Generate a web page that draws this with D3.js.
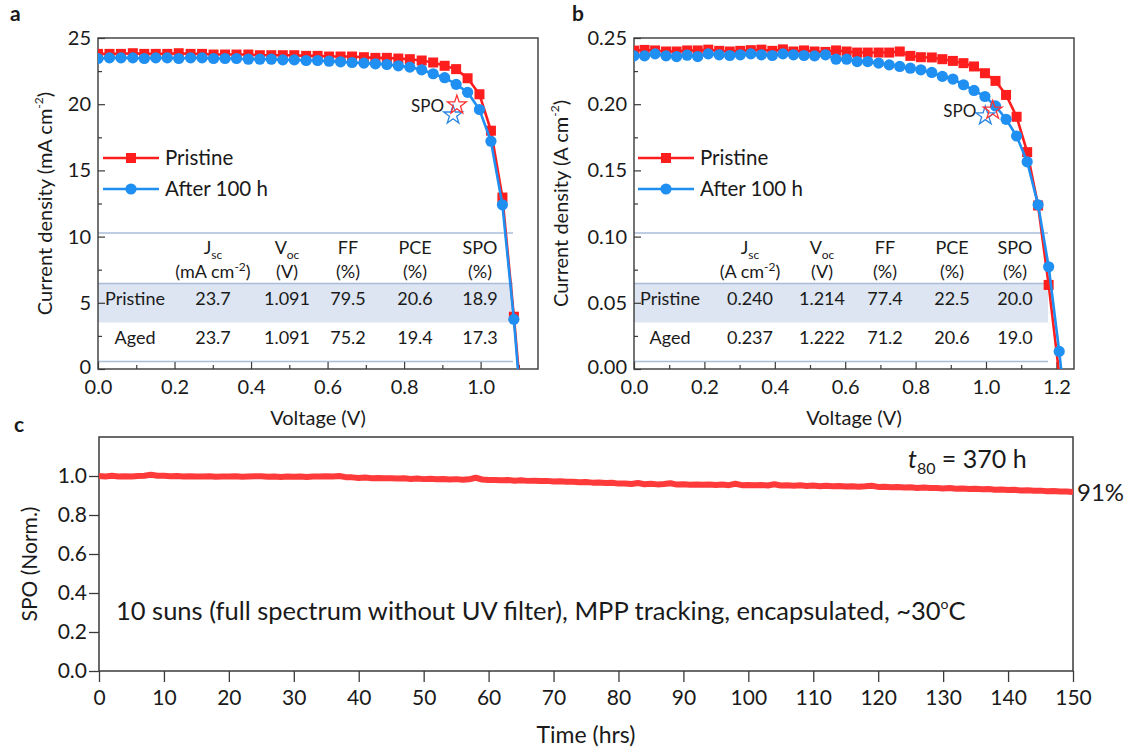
<!DOCTYPE html>
<html>
<head>
<meta charset="utf-8">
<script src="https://cdn.jsdelivr.net/npm/d3@7"></script>
<style>
  body { margin: 0; background: #fff; }
  svg text { font-family: Lato, "Open Sans", sans-serif; fill: #1a1a1a; }
</style>
</head>
<body>
<svg id="fig" width="1132" height="749"></svg>
<script>
// ---- data ----
var voltage = [0, 0.030, 0.060, 0.091, 0.121, 0.151, 0.181, 0.211, 0.242, 0.272,
  0.302, 0.332, 0.362, 0.393, 0.423, 0.453, 0.483, 0.513, 0.544, 0.574,
  0.604, 0.634, 0.664, 0.695, 0.725, 0.755, 0.785, 0.815, 0.846, 0.876,
  0.906, 0.936, 0.966, 0.997, 1.027, 1.057, 1.087, 1.117, 1.148, 1.178,
  1.208, 1.238];

// panel a, mA cm-2
var pristine_a = [23.8, 23.8, 23.8, 23.85, 23.8, 23.8, 23.8, 23.85, 23.8, 23.8,
  23.75, 23.75, 23.75, 23.75, 23.7, 23.7, 23.7, 23.7, 23.65, 23.65,
  23.6, 23.6, 23.6, 23.55, 23.5, 23.5, 23.45, 23.4, 23.3, 23.15,
  22.9, 22.65, 21.96, 20.75, 18.0, 12.95, 3.95, -6];
var aged_a = [23.45, 23.5, 23.5, 23.5, 23.45, 23.5, 23.5, 23.45, 23.5, 23.5,
  23.45, 23.45, 23.45, 23.4, 23.4, 23.4, 23.35, 23.35, 23.3, 23.3,
  23.25, 23.2, 23.15, 23.1, 23.05, 23.0, 22.9, 22.8, 22.6, 22.3,
  22.0, 21.5, 20.9, 19.6, 17.2, 12.4, 3.75, -7];

// panel b, A cm-2
var pristine_b = [0.2405, 0.241, 0.2406, 0.2398, 0.2398, 0.2406, 0.2406, 0.2412, 0.2403, 0.2398,
  0.2403, 0.2408, 0.2412, 0.2403, 0.2414, 0.2398, 0.2406, 0.2398, 0.2395, 0.2406,
  0.2398, 0.239, 0.239, 0.239, 0.239, 0.2398, 0.2365, 0.2355, 0.2353, 0.234,
  0.2327, 0.231, 0.2285, 0.2234, 0.2176, 0.207, 0.1905, 0.1638, 0.1235, 0.0635,
  -0.004];
var aged_b = [0.2365, 0.2365, 0.238, 0.2365, 0.236, 0.237, 0.236, 0.238, 0.2373, 0.2368,
  0.2373, 0.238, 0.2373, 0.2368, 0.238, 0.2373, 0.2368, 0.2365, 0.2373, 0.234,
  0.234, 0.2322, 0.2322, 0.231, 0.2297, 0.2285, 0.2272, 0.226, 0.224, 0.221,
  0.219, 0.2147, 0.2104, 0.2058, 0.1987, 0.1886, 0.176, 0.1565, 0.124, 0.0772,
  0.0133, -0.06];

// SPO stars [pristine, aged]
var spo_v_a = [0.938, 0.928], spo_j_a = [19.94, 19.18];
var spo_v_b = [1.019, 0.998], spo_j_b = [0.1955, 0.1912];

// tables
var table_rows = ['Pristine', 'Aged'];
var table_a = [['23.7', '1.091', '79.5', '20.6', '18.9'],
               ['23.7', '1.091', '75.2', '19.4', '17.3']];
var table_b = [['0.240', '1.214', '77.4', '22.5', '20.0'],
               ['0.237', '1.222', '71.2', '20.6', '19.0']];
var units_a = ['mA cm', '(V)', '(%)', '(%)', '(%)'];
var units_b = ['A cm', '(V)', '(%)', '(%)', '(%)'];

// panel c: normalised SPO, one value per hour
var hours = d3.range(0, 151);
var spo_norm = [1.000, 0.998, 1.001, 0.997, 0.999, 0.997, 1.000, 1.001, 1.006, 1.001,
  1.001, 0.999, 1.000, 0.997, 0.999, 0.997, 0.998, 0.999, 0.996, 0.998,
  0.997, 0.999, 0.996, 0.998, 0.999, 0.999, 0.996, 0.998, 0.995, 0.997,
  0.996, 0.998, 0.995, 0.997, 0.997, 0.999, 0.998, 1.000, 0.994, 0.993,
  0.990, 0.992, 0.989, 0.990, 0.988, 0.989, 0.987, 0.988, 0.985, 0.987,
  0.984, 0.986, 0.983, 0.985, 0.982, 0.984, 0.981, 0.983, 0.991, 0.982,
  0.979, 0.980, 0.978, 0.979, 0.976, 0.978, 0.975, 0.976, 0.974, 0.975,
  0.972, 0.973, 0.970, 0.971, 0.968, 0.969, 0.966, 0.967, 0.964, 0.965,
  0.961, 0.962, 0.959, 0.964, 0.958, 0.960, 0.957, 0.959, 0.963, 0.956,
  0.958, 0.955, 0.957, 0.955, 0.956, 0.954, 0.956, 0.953, 0.960, 0.953,
  0.954, 0.952, 0.954, 0.951, 0.958, 0.951, 0.952, 0.950, 0.952, 0.949,
  0.951, 0.948, 0.950, 0.947, 0.949, 0.946, 0.948, 0.945, 0.947, 0.950,
  0.944, 0.945, 0.942, 0.944, 0.941, 0.942, 0.939, 0.941, 0.938, 0.939,
  0.936, 0.938, 0.935, 0.936, 0.933, 0.935, 0.932, 0.933, 0.930, 0.931,
  0.928, 0.929, 0.926, 0.927, 0.924, 0.925, 0.922, 0.923, 0.920, 0.921,
  0.918];

var red = '#ff1e1e', blue = '#1f8ff2', axis_col = '#3a3a3a',
    table_line = '#a9bdd8', band_fill = '#dce5f1', spo_red = '#ff3a3a';

var svg = d3.select('#fig');

function add_clip(id, l, t, r, b) {
  svg.append('clipPath').attr('id', id)
    .append('rect').attr('x', l).attr('y', t).attr('width', r - l).attr('height', b - t);
}

function draw_jv(p) {
  var x = d3.scaleLinear().domain([0, p.xmax]).range([p.left, p.right]),
      y = d3.scaleLinear().domain([0, p.ymax]).range([p.bottom, p.top]);
  var g = svg.append('g');
  add_clip('clip-' + p.id, p.left, p.top, p.right, p.bottom);

  // table behind the curves
  var t = p.table;
  g.append('rect')
    .attr('x', p.left).attr('y', 283.5)
    .attr('width', t.right - p.left).attr('height', 39)
    .attr('fill', band_fill);
  [233, 283.5, 361.5].forEach(function(ly) {
    g.append('line')
      .attr('x1', p.left).attr('x2', t.right)
      .attr('y1', ly).attr('y2', ly)
      .attr('stroke', table_line).attr('stroke-width', 1.3);
  });
  var heads = [['J', 'sc'], ['V', 'oc'], ['FF', ''], ['PCE', ''], ['SPO', '']];
  heads.forEach(function(h, i) {
    var tx = g.append('text').attr('x', t.cols[i]).attr('y', 254)
      .attr('text-anchor', 'middle').style('font-size', '18px');
    tx.append('tspan').text(h[0]);
    if (h[1]) tx.append('tspan').attr('dy', 5).style('font-size', '12px').text(h[1]);
    var u = g.append('text').attr('x', t.cols[i]).attr('y', 278)
      .attr('text-anchor', 'middle').style('font-size', '18px');
    if (i === 0) {
      u.append('tspan').text('(' + t.units[i]);
      u.append('tspan').attr('dy', -7).style('font-size', '12px').text('-2');
      u.append('tspan').attr('dy', 7).text(')');
    } else {
      u.text(t.units[i]);
    }
  });
  table_rows.forEach(function(r, ri) {
    var ry = ri === 0 ? 304.5 : 343.5;
    g.append('text').attr('x', t.label_x).attr('y', ry)
      .attr('text-anchor', 'middle').style('font-size', '18px').text(r);
    t.values[ri].forEach(function(v, ci) {
      g.append('text').attr('x', t.cols[ci]).attr('y', ry)
        .attr('text-anchor', 'middle').style('font-size', '18px').text(v);
    });
  });

  // axes: inward major + minor ticks on left and bottom
  var xa = g.append('g').attr('transform', 'translate(0,' + p.bottom + ')')
    .call(d3.axisBottom(x).tickValues(p.xticks).tickSize(-7).tickPadding(11)
      .tickFormat(d3.format('.1f')));
  var xm = g.append('g').attr('transform', 'translate(0,' + p.bottom + ')')
    .call(d3.axisBottom(x).tickValues(p.xminor).tickSize(-4).tickFormat(''));
  var ya = g.append('g').attr('transform', 'translate(' + p.left + ',0)')
    .call(d3.axisLeft(y).tickValues(p.yticks).tickSize(-7).tickPadding(7)
      .tickFormat(p.yfmt));
  var ym = g.append('g').attr('transform', 'translate(' + p.left + ',0)')
    .call(d3.axisLeft(y).tickValues(p.yminor).tickSize(-4).tickFormat(''));
  [xa, xm, ya, ym].forEach(function(a) {
    a.select('.domain').remove();
    a.selectAll('line').attr('stroke', axis_col).attr('stroke-width', 1.2);
    a.selectAll('text').style('font-size', '20px').attr('fill', '#1a1a1a')
      .style('font-family', 'Lato, "Open Sans", sans-serif');
  });
  // lift the "0" a touch so it clears the x labels
  ya.selectAll('.tick').filter(function(d) { return d === 0; }).select('text').attr('dy', '0.2em');
  g.append('rect')
    .attr('x', p.left).attr('y', p.top)
    .attr('width', p.right - p.left).attr('height', p.bottom - p.top)
    .attr('fill', 'none').attr('stroke', axis_col).attr('stroke-width', 1.4);

  // curves
  var plot = g.append('g').attr('clip-path', 'url(#clip-' + p.id + ')');
  var series = [{ j: p.pristine, col: red, mark: 'square' },
                { j: p.aged, col: blue, mark: 'circle' }];
  series.forEach(function(s) {
    var pts = s.j.map(function(j, i) { return [voltage[i], j]; });
    plot.append('path').datum(pts)
      .attr('fill', 'none').attr('stroke', s.col).attr('stroke-width', 2.6)
      .attr('d', d3.line().x(function(d) { return x(d[0]); }).y(function(d) { return y(d[1]); }));
    var vis = pts.filter(function(d) { return d[1] >= 0; });
    if (s.mark === 'square') {
      plot.selectAll(null).data(vis).enter().append('rect')
        .attr('x', function(d) { return x(d[0]) - 5; })
        .attr('y', function(d) { return y(d[1]) - 5; })
        .attr('width', 10).attr('height', 10).attr('fill', s.col);
    } else {
      plot.selectAll(null).data(vis).enter().append('circle')
        .attr('cx', function(d) { return x(d[0]); })
        .attr('cy', function(d) { return y(d[1]); })
        .attr('r', 5.6).attr('fill', s.col);
    }
  });

  // SPO stars
  var star = d3.symbol().type(d3.symbolStar).size(110);
  [1, 0].forEach(function(i) {
    g.append('path').attr('d', star())
      .attr('transform', 'translate(' + x(p.spo_v[i]) + ',' + y(p.spo_j[i]) + ')')
      .attr('fill', 'none').attr('stroke', i === 0 ? '#ff3030' : '#2a86e0')
      .attr('stroke-width', 1.3);
  });
  g.append('text')
    .attr('x', x(p.spo_v[1]) - 9).attr('y', y(p.spo_j[0]) + 7)
    .attr('text-anchor', 'end').style('font-size', '17px').text('SPO');

  // legend
  var leg = [['Pristine', red, 'square', 158], ['After 100 h', blue, 'circle', 189]];
  leg.forEach(function(l) {
    g.append('line').attr('x1', p.leg_x).attr('x2', p.leg_x + 56)
      .attr('y1', l[3]).attr('y2', l[3]).attr('stroke', l[1]).attr('stroke-width', 2.6);
    if (l[2] === 'square') {
      g.append('rect').attr('x', p.leg_x + 23).attr('y', l[3] - 5)
        .attr('width', 10).attr('height', 10).attr('fill', l[1]);
    } else {
      g.append('circle').attr('cx', p.leg_x + 28).attr('cy', l[3]).attr('r', 5.6).attr('fill', l[1]);
    }
    g.append('text').attr('x', p.leg_x + 62).attr('y', l[3] + 7)
      .style('font-size', '20.5px').text(l[0]);
  });

  // axis titles and panel letter
  g.append('text')
    .attr('x', (p.left + p.right) / 2).attr('y', 425)
    .attr('text-anchor', 'middle').style('font-size', '20px').text('Voltage (V)');
  var yt = g.append('text')
    .attr('transform', 'translate(' + p.ytitle_x + ',' + ((p.top + p.bottom) / 2) + ') rotate(-90)')
    .attr('text-anchor', 'middle').style('font-size', '20px');
  yt.append('tspan').text(p.ytitle);
  yt.append('tspan').attr('dy', -9).style('font-size', '12px').text('-2');
  yt.append('tspan').attr('dy', 9).text(')');
  g.append('text').attr('x', p.letter_x).attr('y', 21)
    .style('font-size', '21px').style('font-weight', 'bold').text(p.letter);
}

draw_jv({
  id: 'a', letter: 'a', letter_x: 10,
  left: 98, right: 538, top: 38, bottom: 369,
  xmax: 1.15, ymax: 25,
  xticks: [0, 0.2, 0.4, 0.6, 0.8, 1.0], xminor: [0.1, 0.3, 0.5, 0.7, 0.9, 1.1],
  yticks: [0, 5, 10, 15, 20, 25], yminor: [2.5, 7.5, 12.5, 17.5, 22.5],
  yfmt: d3.format('d'),
  pristine: pristine_a, aged: aged_a,
  spo_v: spo_v_a, spo_j: spo_j_a,
  leg_x: 103, ytitle_x: 52, ytitle: 'Current density (mA cm',
  table: { right: 513, label_x: 135, cols: [213, 287, 348, 415, 480],
           units: units_a, values: table_a }
});

draw_jv({
  id: 'b', letter: 'b', letter_x: 572,
  left: 634, right: 1074, top: 38, bottom: 369,
  xmax: 1.25, ymax: 0.25,
  xticks: [0, 0.2, 0.4, 0.6, 0.8, 1.0, 1.2], xminor: [0.1, 0.3, 0.5, 0.7, 0.9, 1.1],
  yticks: [0, 0.05, 0.10, 0.15, 0.20, 0.25], yminor: [0.025, 0.075, 0.125, 0.175, 0.225],
  yfmt: d3.format('.2f'),
  pristine: pristine_b, aged: aged_b,
  spo_v: spo_v_b, spo_j: spo_j_b,
  leg_x: 638, ytitle_x: 568, ytitle: 'Current density (A cm',
  table: { right: 1048, label_x: 670, cols: [750, 822, 885, 952, 1015],
           units: units_b, values: table_b }
});

// ---- panel c ----
function draw_stability() {
  var left = 99, right = 1073, top = 437, bottom = 671;
  var x = d3.scaleLinear().domain([0, 150]).range([left, right]),
      y = d3.scaleLinear().domain([0, 1.2]).range([bottom, top]);
  var g = svg.append('g');
  add_clip('clip-c', left, top, right, bottom);

  var xa = g.append('g').attr('transform', 'translate(0,' + bottom + ')')
    .call(d3.axisBottom(x).tickValues(d3.range(0, 151, 10)).tickSize(11).tickPadding(8));
  var ya = g.append('g').attr('transform', 'translate(' + left + ',0)')
    .call(d3.axisLeft(y).tickValues([0, 0.2, 0.4, 0.6, 0.8, 1.0]).tickSize(10).tickPadding(2)
      .tickFormat(d3.format('.1f')));
  [xa, ya].forEach(function(a) {
    a.select('.domain').remove();
    a.selectAll('line').attr('stroke', axis_col).attr('stroke-width', 1.3);
    a.selectAll('text').style('font-size', '21px').attr('fill', '#1a1a1a')
      .style('font-family', 'Lato, "Open Sans", sans-serif');
  });
  g.append('rect')
    .attr('x', left).attr('y', top).attr('width', right - left).attr('height', bottom - top)
    .attr('fill', 'none').attr('stroke', axis_col).attr('stroke-width', 1.5);

  g.append('path').datum(hours)
    .attr('clip-path', 'url(#clip-c)')
    .attr('fill', 'none').attr('stroke', spo_red).attr('stroke-width', 6)
    .attr('stroke-linejoin', 'round')
    .attr('d', d3.line().x(function(h) { return x(h); }).y(function(h, i) { return y(spo_norm[i]); }));

  var t80 = g.append('text').attr('x', 908).attr('y', 468).style('font-size', '25px');
  t80.append('tspan').style('font-style', 'italic').text('t');
  t80.append('tspan').attr('dy', 6).style('font-size', '16px').text('80');
  t80.append('tspan').attr('dy', -6).text(' = 370 h');

  g.append('text').attr('x', right + 4).attr('y', 501).style('font-size', '24px').text('91%');

  var note = g.append('text').attr('x', 116).attr('y', 620).style('font-size', '25.5px');
  note.append('tspan').text('10 suns (full spectrum without UV filter), MPP tracking, encapsulated, ~30');
  note.append('tspan').attr('dy', -11).style('font-size', '14px').text('o');
  note.append('tspan').attr('dy', 11).text('C');

  g.append('text').attr('x', (left + right) / 2).attr('y', 743)
    .attr('text-anchor', 'middle').style('font-size', '23px').text('Time (hrs)');
  g.append('text')
    .attr('transform', 'translate(37,' + ((top + bottom) / 2 + 10) + ') rotate(-90)')
    .attr('text-anchor', 'middle').style('font-size', '21px').text('SPO (Norm.)');
  g.append('text').attr('x', 14).attr('y', 432)
    .style('font-size', '21px').style('font-weight', 'bold').text('c');
}

draw_stability();
</script>
</body>
</html>
